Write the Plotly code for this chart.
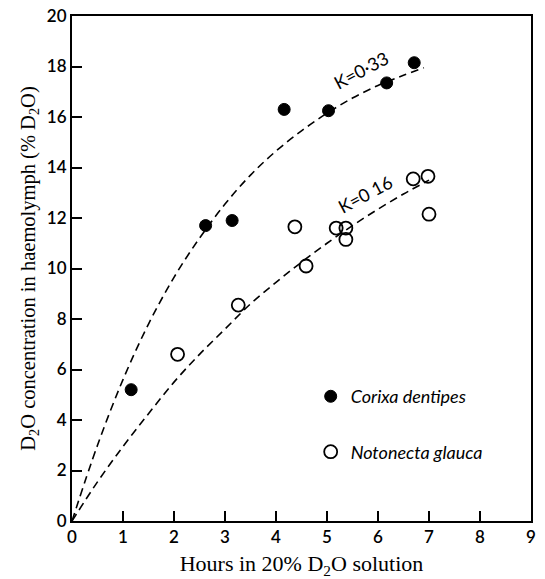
import plotly.graph_objects as go

# Corixa dentipes (filled circles)
corixa_hours = [1.16, 2.62, 3.14, 4.16, 5.03, 6.17, 6.71]
corixa_d2o = [5.2, 11.7, 11.9, 16.3, 16.25, 17.35, 18.15]

# Notonecta glauca (open circles)
noto_hours = [2.07, 3.26, 4.37, 4.59, 5.18, 5.37, 5.37, 6.69, 6.98, 7.0]
noto_d2o = [6.6, 8.55, 11.65, 10.1, 11.6, 11.6, 11.15, 13.55, 13.65, 12.15]

# Dashed fitted curves
curve_hours_k033 = [0, 0.5, 1, 1.5, 2, 2.5, 3, 3.5, 4, 4.5, 5, 5.5, 6, 6.5, 6.9]
curve_d2o_k033 = [0, 3.0, 5.6, 7.8, 9.65, 11.2, 12.55, 13.7, 14.65, 15.45, 16.15, 16.75, 17.25, 17.65, 17.95]
curve_hours_k016 = [0, 0.5, 1, 1.5, 2, 2.5, 3, 3.5, 4, 4.5, 5, 5.5, 6, 6.5, 7.0]
curve_d2o_k016 = [0, 1.55, 2.95, 4.25, 5.5, 6.6, 7.6, 8.6, 9.45, 10.25, 11.0, 11.7, 12.35, 12.95, 13.5]

x_ticks = [0, 1, 2, 3, 4, 5, 6, 7, 8, 9]
y_ticks = [0, 2, 4, 6, 8, 10, 12, 14, 16, 18, 20]

fig = go.Figure()

dash_style = dict(color="black", width=1.6, dash="8px,5px", shape="spline")
fig.add_trace(go.Scatter(x=curve_hours_k033, y=curve_d2o_k033, mode="lines",
                         line=dash_style, showlegend=False, hoverinfo="skip"))
fig.add_trace(go.Scatter(x=curve_hours_k016, y=curve_d2o_k016, mode="lines",
                         line=dash_style, showlegend=False, hoverinfo="skip"))

fig.add_trace(go.Scatter(x=corixa_hours, y=corixa_d2o, mode="markers",
                         name="<i>Corixa dentipes</i>", legendgroup="a",
                         marker=dict(symbol="circle", size=12, color="black",
                                     line=dict(color="black", width=1))))
fig.add_trace(go.Scatter(x=noto_hours, y=noto_d2o, mode="markers",
                         name="<i>Notonecta glauca</i>", legendgroup="b",
                         marker=dict(symbol="circle-open", size=13, color="black",
                                     line=dict(color="black", width=1.8))))

fig.add_annotation(x=5.67, y=17.85, text="K=0·33", showarrow=False, textangle=-28,
                   font=dict(family="Lato", size=18, color="black"))
fig.add_annotation(x=5.75, y=12.95, text="K=0 16", showarrow=False, textangle=-28,
                   font=dict(family="Lato", size=18, color="black"))

axis_common = dict(
    showline=True, linecolor="black", linewidth=2, mirror=True,
    ticks="inside", ticklen=10, tickwidth=1.5, tickcolor="black",
    showgrid=False, zeroline=False, automargin=False,
    tickfont=dict(family="Lato", size=17, color="black", weight=600),
)

fig.update_xaxes(range=[0, 9], tickvals=x_ticks, ticktext=[str(v) for v in x_ticks],
                 ticklabelstandoff=0,
                 title=dict(text="Hours in 20% D<sub>2</sub>O solution", standoff=20,
                            font=dict(family="Liberation Serif", size=22, color="black")),
                 **axis_common)
fig.update_yaxes(range=[0, 20], tickvals=y_ticks, ticktext=[str(v) for v in y_ticks],
                 title=dict(text="D<sub>2</sub>O concentration in haemolymph (% D<sub>2</sub>O)",
                            standoff=6,
                            font=dict(family="Liberation Serif", size=20.5, color="black")),
                 **axis_common)

fig.update_layout(
    width=545, height=579,
    margin=dict(l=72, r=14, t=16, b=58),
    plot_bgcolor="white", paper_bgcolor="white",
    legend=dict(x=0.52, y=0.283, xanchor="left", yanchor="top",
                bgcolor="rgba(0,0,0,0)", tracegroupgap=29,
                font=dict(family="Lato", size=18, color="black"),
                itemwidth=30),
)

# remove the default page margin so the figure sits at the window's corner
fig.write_html("out.html",
               config={"displayModeBar": False},
               post_script="document.body.style.margin='0';document.body.style.overflow='hidden';")
